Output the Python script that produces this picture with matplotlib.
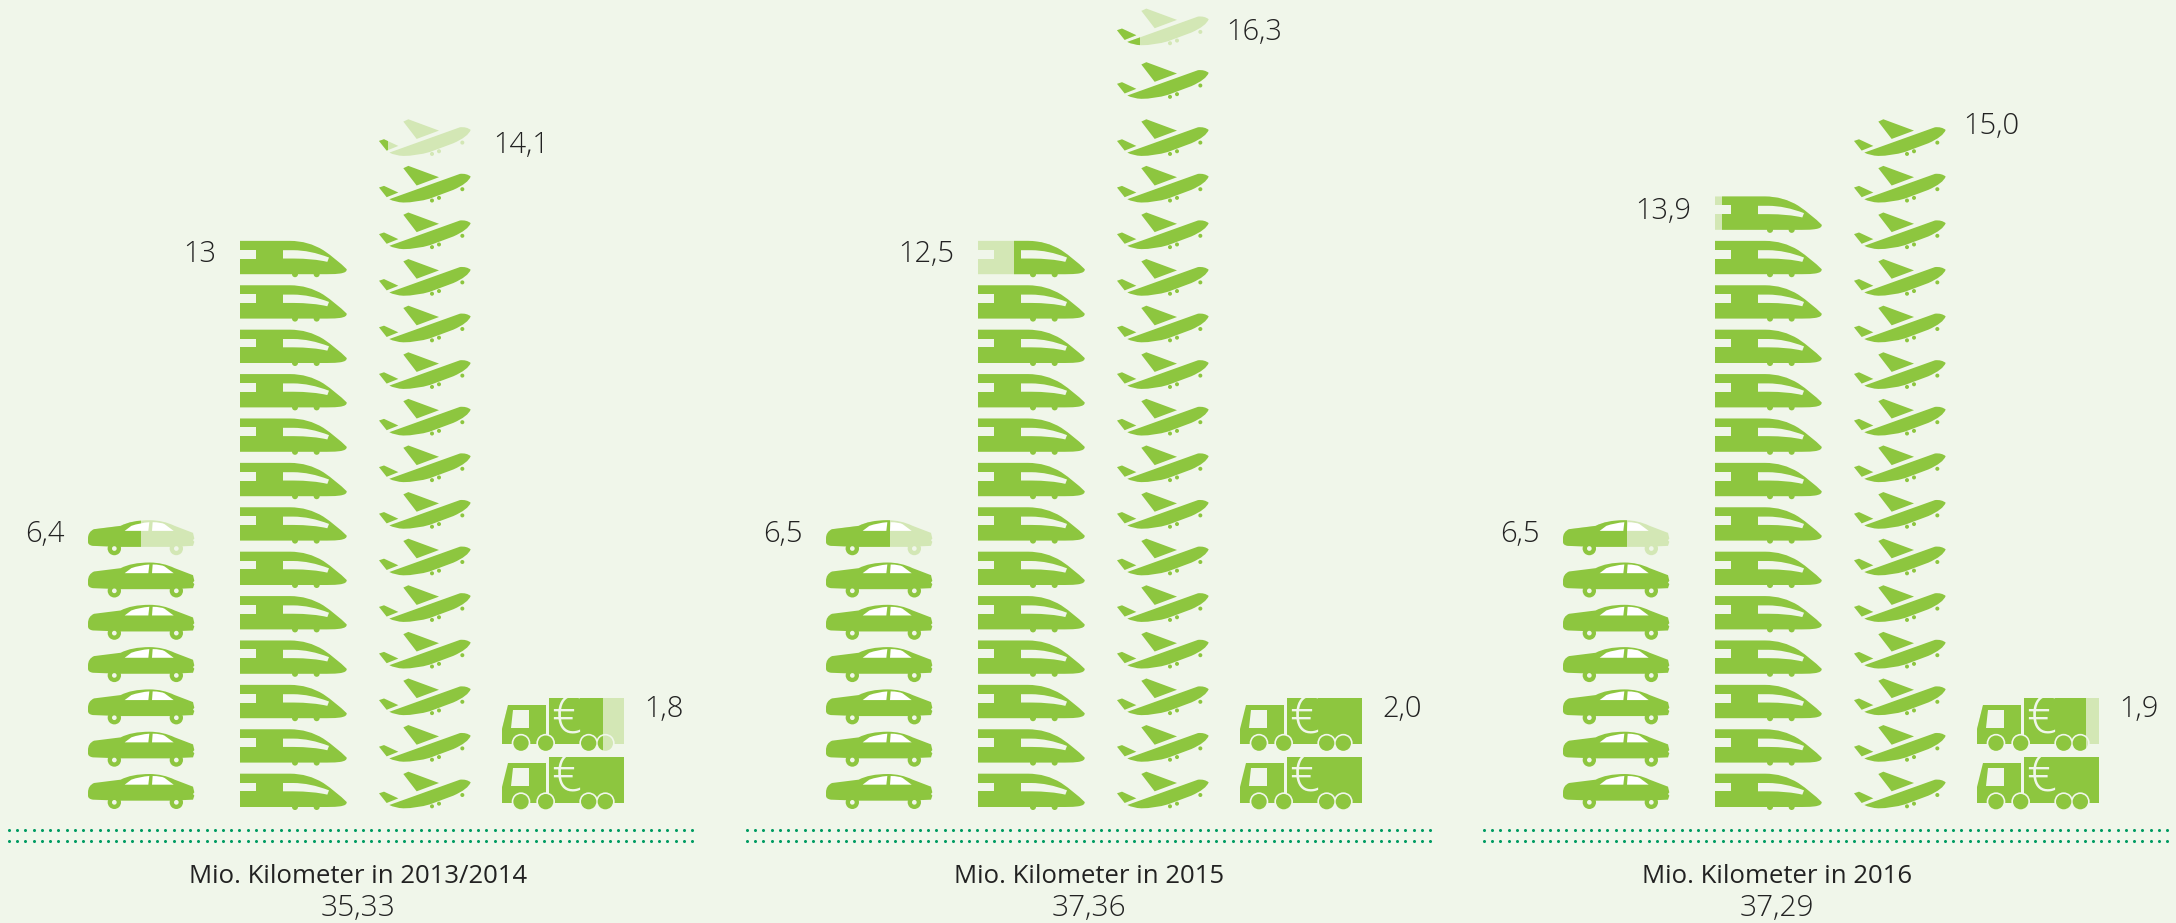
import math
import matplotlib
matplotlib.use('Agg')
import matplotlib.pyplot as plt
import numpy as np
from matplotlib.patches import PathPatch, Rectangle
from matplotlib.path import Path
from matplotlib.transforms import Affine2D

# values per period
periods = ['Mio. Kilometer in 2013/2014', 'Mio. Kilometer in 2015', 'Mio. Kilometer in 2016']
totals = ['35,33', '37,36', '37,29']
car = [6.4, 6.5, 6.5]
train = [13, 12.5, 13.9]
plane = [14.1, 16.3, 15.0]
truck = [1.8, 2.0, 1.9]
car_labels = ['6,4', '6,5', '6,5']
train_labels = ['13', '12,5', '13,9']
plane_labels = ['14,1', '16,3', '15,0']
truck_labels = ['1,8', '2,0', '1,9']

# how much of the top icon is dark in the original artwork
car_share = [0.50, 0.60, 0.60]
train_share = [1.0, 0.66, 0.935]
plane_share = [0.095, 0.25, 1.0]
truck_share = [0.83, 1.0, 0.895]

BG = '#f0f6ea'
GREEN = '#8dc63f'
PALE = '#d3e7b5'
DOTS = '#009b62'
TEXT = '#222222'
FONT = 'Open Sans'

plt.rcParams['font.family'] = FONT


def svg(s):
    verts, codes = [], []
    t = s.split()
    i = 0
    while i < len(t):
        c = t[i]
        if c == 'M':
            verts.append((float(t[i+1]), float(t[i+2])))
            codes.append(Path.MOVETO)
            i += 3
        elif c == 'L':
            verts.append((float(t[i+1]), float(t[i+2])))
            codes.append(Path.LINETO)
            i += 3
        elif c == 'Q':
            verts += [(float(t[i+1]), float(t[i+2])), (float(t[i+3]), float(t[i+4]))]
            codes += [Path.CURVE3, Path.CURVE3]
            i += 5
        else:
            verts.append(verts[0])
            codes.append(Path.CLOSEPOLY)
            i += 1
    return Path(verts, codes)


def disc(x, y, r):
    return Path(Path.unit_circle().vertices * r + (x, y), Path.unit_circle().codes)


# icon shapes, traced at 3x; each part is (path, True if it takes the icon colour)
CAR = dict(origin=(85, 350), width=319, parts=[
    (svg('M 85 300 Q 85 280 103 272 L 183 262 Q 215 245 270 245 Q 310 245 345 262 L 400 283 '
         'L 404 300 L 400 305 L 404 310 L 400 322 L 330 325 L 180 325 L 100 322 Q 85 320 85 310 Z'), True),
    (disc(164, 330, 20), True), (disc(350, 330, 20), True),
    (disc(164, 330, 7), False), (disc(350, 330, 7), False),
    (svg('M 195 277 L 215 262 Q 240 253 269 251 L 266 277 Z'), 'white'),
    (svg('M 277 277 L 279 251 Q 305 251 315 257 L 342 277 Z'), 'white'),
])
TRAIN = dict(origin=(540, 194), width=321, parts=[
    (svg('M 540 85 L 690 85 Q 745 85 790 113 Q 830 140 860 170 Q 862 180 840 183 Q 830 185 800 185 L 540 185 Z'), True),
    (disc(705, 185, 9), True), (disc(770, 185, 9), True),
    (svg('M 540 112 L 587 112 L 587 138 L 540 138 Z'), False),
    (svg('M 669 113 L 700 113 Q 750 113 807 135 L 802 148 Q 760 138 700 138 L 669 138 Z'), False),
])
PLANE = dict(origin=(477, 250), width=275, parts=[
    (svg('M 508 238 L 720 162 Q 740 160 752 170 Q 745 190 700 210 L 630 236 Q 590 248 550 248 Q 525 247 508 238 Z'), True),
    (svg('M 550 145 L 565 138 L 657 172 L 590 197 Z'), True),
    (svg('M 477 203 L 492 198 L 535 218 L 500 232 Z'), True),
    (disc(727, 208, 6), True), (disc(657, 234, 6), True), (disc(636, 242, 6), True),
])
TRUCK = dict(origin=(66, 390), width=366, parts=[
    (svg('M 85 250 L 198 250 L 198 368 L 66 368 L 66 322 Z'), True),
    (svg('M 206 230 L 432 230 L 432 368 L 206 368 Z'), True),
    (svg('M 98 265 L 148 265 L 148 318 L 92 318 Z'), False),
    (disc(123, 365, 28), False), (disc(197, 365, 28), False), (disc(326, 365, 28), False), (disc(376, 365, 28), False),
    (disc(123, 365, 23), True), (disc(197, 365, 23), True), (disc(326, 365, 23), True), (disc(376, 365, 23), True),
])

fig = plt.figure(figsize=(21.76, 9.23), dpi=100, facecolor=BG)
ax = fig.add_axes([0, 0, 1, 1])
ax.set_xlim(0, 2176)
ax.set_ylim(923, 0)
ax.axis('off')


def draw_icon(icon, x, bottom, color, clip=None):
    ox, oy = icon['origin']
    tr = Affine2D().translate(-ox, -oy).scale(1 / 3).translate(x, bottom) + ax.transData
    for path, kind in icon['parts']:
        if kind is True:
            fc = color
        elif kind == 'white':
            fc = 'white'
        else:
            fc = BG
        p = PathPatch(path, facecolor=fc, edgecolor='none', transform=tr, zorder=2)
        ax.add_patch(p)
        if clip is not None:
            p.set_clip_path(Rectangle((clip[0], 0), clip[1] - clip[0], 923, transform=ax.transData))


def draw_stack(icon, x, base, pitch, value, share, from_right=False, gaps=None):
    n = math.ceil(value)
    width = icon['width'] / 3
    top = base
    for i in range(n):
        y = base - i * pitch
        if gaps and i in gaps:
            y -= gaps[i]
        top = y
        if i == n - 1 and share < 1:
            draw_icon(icon, x, y, PALE)
            if from_right:
                clip = (x + width * (1 - share), x + width + 1)
            else:
                clip = (x - 1, x + width * share)
            draw_icon(icon, x, y, GREEN, clip)
        else:
            draw_icon(icon, x, y, GREEN)
        if icon is TRUCK:
            ax.text(x + 64, y - 32, '€', fontsize=38, color=BG, ha='center', va='center',
                    fontweight='light', zorder=3)
    return top


offsets = [0, 738, 1475]
title_x = [358.5, 1089, 1777]
train_lift = [23, 23, 22]
plane_lift = [11, 14, 30]
plane_x = [493, 1226, 1963]
plane_gaps = [None, {15: 10.5, 16: 17.5}, None]
label = dict(va='center', fontsize=21, fontweight='light', color=TEXT)

for k, off in enumerate(offsets):
    t = draw_stack(CAR, 88 + off, 809, 42.3, car[k], car_share[k])
    ax.text(65 + off, t - 21, car_labels[k], ha='right', **label)
    t = draw_stack(TRAIN, 240 + off, 810, 44.4, train[k], train_share[k], from_right=True)
    ax.text(216.5 + off, t - train_lift[k], train_labels[k], ha='right', **label)
    t = draw_stack(PLANE, 379 + off, 809, 46.6, plane[k], plane_share[k], gaps=plane_gaps[k])
    ax.text(plane_x[k], t - plane_lift[k], plane_labels[k], ha='left', **label)
    t = draw_stack(TRUCK, 502 + off, 810, 58.5, truck[k], truck_share[k])
    ax.text(644 + off, t - 42, truck_labels[k], ha='left', **label)

    dots_x = np.arange(9 + off, 698 + off, 8.23)
    for yy in (830, 841):
        ax.plot(dots_x, [yy] * len(dots_x), 'o', color=DOTS, ms=2.2, mew=0, zorder=1)

    ax.text(title_x[k], 883, periods[k], ha='center', va='baseline', fontsize=18.5, color=TEXT)
    ax.text(title_x[k], 916, totals[k], ha='center', va='baseline', fontsize=21.5, fontweight='light', color=TEXT)

fig.savefig('out.png', dpi=100, facecolor=BG)
